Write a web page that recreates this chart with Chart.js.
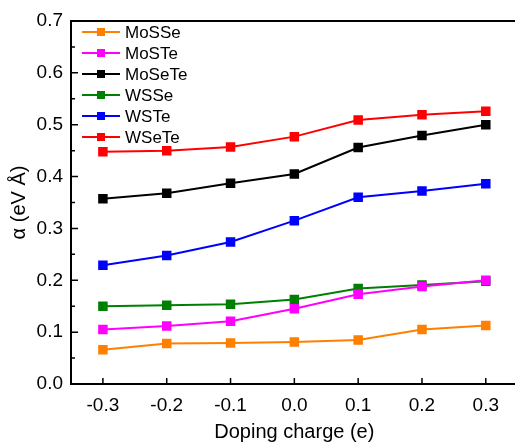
<!DOCTYPE html>
<html>
<head>
<meta charset="utf-8">
<script src="https://cdn.jsdelivr.net/npm/chart.js@4/dist/chart.umd.min.js"></script>
<style>
  html, body { margin: 0; padding: 0; background: #fff; overflow: hidden; }
  #wrap { width: 525px; height: 446px; position: relative; }
</style>
</head>
<body>
<div id="wrap"><canvas id="graphique"></canvas></div>
<script>
// Doping charge (e)
const charges = [-0.3, -0.2, -0.1, 0.0, 0.1, 0.2, 0.3];
const xTickLabels = ["-0.3", "-0.2", "-0.1", "0.0", "0.1", "0.2", "0.3"];
const yTickLabels = ["0.0", "0.1", "0.2", "0.3", "0.4", "0.5", "0.6", "0.7"];

const noms = ["MoSSe", "MoSTe", "MoSeTe", "WSSe", "WSTe", "WSeTe"];
const couleurs = ["#ff8000", "#ff00ff", "#000000", "#008000", "#0000ff", "#ff0000"];

// alpha (eV Å) for each compound
const mosse  = [0.066, 0.078, 0.079, 0.081, 0.085, 0.105, 0.113];
const moste  = [0.105, 0.112, 0.121, 0.145, 0.173, 0.188, 0.200];
const mosete = [0.357, 0.368, 0.387, 0.405, 0.456, 0.479, 0.500];
const wsse   = [0.150, 0.152, 0.154, 0.163, 0.184, 0.191, 0.198];
const wste   = [0.229, 0.248, 0.274, 0.315, 0.360, 0.372, 0.386];
const wsete  = [0.448, 0.450, 0.457, 0.477, 0.509, 0.519, 0.526];

const series = [mosse, moste, mosete, wsse, wste, wsete];

const police = "'Liberation Sans', Arial, sans-serif";

const datasets = series.map((valeurs, i) => ({
  label: noms[i],
  data: valeurs.map((v, j) => ({ x: charges[j], y: v })),
  borderColor: couleurs[i],
  backgroundColor: couleurs[i],
  borderWidth: 2,
  pointStyle: "rect",
  pointRadius: 5.3,
  pointHoverRadius: 5.3,
  tension: 0,
}));

// cadre, graduations intérieures et légende
const cadrePlugin = {
  id: "cadre",
  afterDatasetsDraw(chart) {
    const ctx = chart.ctx;
    const { left, right, top, bottom } = chart.chartArea;
    const sx = chart.scales.x;
    const sy = chart.scales.y;
    ctx.save();
    ctx.strokeStyle = "#000";
    ctx.lineWidth = 2;
    ctx.strokeRect(left, top, right - left, bottom - top);

    ctx.lineWidth = 1.5;
    ctx.beginPath();
    for (const v of charges) {
      const px = sx.getPixelForValue(v);
      ctx.moveTo(px, bottom);
      ctx.lineTo(px, bottom - 6);
    }
    for (let k = 0; k <= 14; k++) {
      const py = sy.getPixelForValue(k * 0.05);
      const len = k % 2 === 0 ? 7 : 4;
      ctx.moveTo(left, py);
      ctx.lineTo(left + len, py);
    }
    ctx.stroke();

    // légende
    ctx.font = "17px " + police;
    ctx.textBaseline = "middle";
    chart.data.datasets.forEach((ds, i) => {
      const y = top + 11 + i * 21;
      const x0 = left + 11;
      ctx.strokeStyle = ds.borderColor;
      ctx.fillStyle = ds.borderColor;
      ctx.lineWidth = 2;
      ctx.beginPath();
      ctx.moveTo(x0, y);
      ctx.lineTo(x0 + 38, y);
      ctx.stroke();
      ctx.fillRect(x0 + 19 - 4, y - 4, 8, 8);
      ctx.fillStyle = "#000";
      ctx.fillText(ds.label, x0 + 43, y + 1);
    });
    ctx.restore();
  }
};

new Chart(document.querySelector("#graphique"), {
  type: "line",
  data: { datasets: datasets },
  options: {
    responsive: true,
    maintainAspectRatio: false,
    animation: false,
    layout: { padding: { top: 21, right: 3, left: 0, bottom: 0 } },
    plugins: { legend: { display: false }, tooltip: { enabled: false } },
    scales: {
      x: {
        type: "linear",
        min: -0.35,
        max: 0.35,
        afterBuildTicks: (scale) => { scale.ticks = charges.map(v => ({ value: v })); },
        afterFit: (scale) => { scale.height = 62; },
        grid: { display: false, drawTicks: false },
        border: { display: false },
        ticks: {
          padding: 10,
          color: "#000",
          font: { family: police, size: 19 },
          callback: (v, idx) => xTickLabels[idx],
        },
        title: {
          display: true,
          text: "Doping charge (e)",
          color: "#000",
          font: { family: police, size: 20 },
          padding: { top: 0, bottom: 2 },
        },
      },
      y: {
        min: 0,
        max: 0.7,
        afterBuildTicks: (scale) => { scale.ticks = yTickLabels.map(t => ({ value: parseFloat(t) })); },
        afterFit: (scale) => { scale.width = 71; },
        grid: { display: false, drawTicks: false },
        border: { display: false },
        ticks: {
          padding: 8,
          color: "#000",
          font: { family: police, size: 19 },
          callback: (v, idx) => yTickLabels[idx],
        },
        title: {
          display: true,
          text: "α (eV Å)",
          color: "#000",
          font: { family: police, size: 20 },
          padding: { top: 7, bottom: 0 },
        },
      },
    },
  },
  plugins: [cadrePlugin],
});
</script>
</body>
</html>
